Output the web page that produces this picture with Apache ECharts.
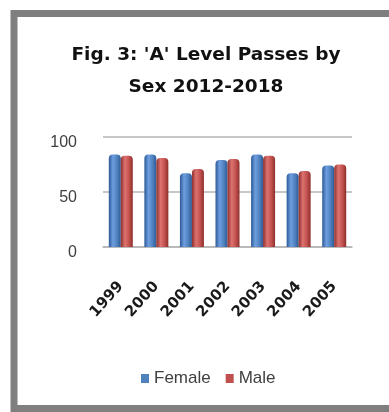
<!DOCTYPE html>
<html>
<head>
<meta charset="utf-8">
<script src="https://cdn.jsdelivr.net/npm/echarts@6/dist/echarts.min.js"></script>
<style>
html,body{margin:0;padding:0;background:#fff;}
#c{width:389px;height:412px;}
</style>
</head>
<body>
<div id="c"></div>
<script>
var categories = ['1999','2000','2001','2002','2003','2004','2005'];
var female = [84, 84, 67, 79, 84, 67, 74];
var male = [83, 81, 71, 80, 83, 69, 75];
var yTicks = [0, 50, 100];
var titleLines = ["Fig. 3: 'A' Level Passes by", "Sex 2012-2018"];
var seriesNames = ['Female', 'Male'];
var seriesColors = ['#4f81bd', '#c0504d'];

var chart = echarts.init(document.getElementById('c'), null, {renderer:'canvas'});
function cyl(dark, mid, light) {
  return new echarts.graphic.LinearGradient(0,0,1,0,[
    {offset:0,color:dark},{offset:0.35,color:light},{offset:0.7,color:mid},{offset:1,color:dark}
  ]);
}
chart.setOption({
  backgroundColor:'#fff',
  animation:false,
  graphic:[{
    type:'rect', z:-10, silent:true,
    shape:{x:14,y:13.5,width:420,height:395},
    style:{fill:'#fff',stroke:'#7f7f7f',lineWidth:7}
  }],
  title:{
    text: titleLines.join('\n'),
    left: 201, top: 34, textAlign:'center',
    textStyle:{fontFamily:'DejaVu Sans',fontWeight:'bold',fontSize:18.5,lineHeight:32,color:'#111'}
  },
  legend:{
    data: [
      {name:seriesNames[0], itemStyle:{color:seriesColors[0]}},
      {name:seriesNames[1], itemStyle:{color:seriesColors[1]}}
    ],
    left:136, top:365,
    itemWidth:8, itemHeight:9, itemGap:15,
    icon:'rect',
    textStyle:{fontFamily:'Liberation Sans',fontSize:17,color:'#404040'}
  },
  grid:{left:103, right:37, top:137, bottom:165},
  xAxis:{
    type:'category', data:categories,
    axisTick:{show:false},
    axisLine:{show:true,lineStyle:{color:'#b5b5b5',width:1.5}},
    axisLabel:{rotate:48, margin:37, interval:0, fontFamily:'DejaVu Sans', fontWeight:'bold', fontSize:15, color:'#1a1a1a'}
  },
  yAxis:{
    type:'value', min:0, max:100, interval:50,
    axisLine:{show:false}, axisTick:{show:false},
    splitLine:{lineStyle:{color:'#b5b5b5',width:1.5}},
    axisLabel:{margin:26, fontFamily:'Liberation Sans', fontSize:16, color:'#404040', verticalAlign:'top', lineHeight:12,
      formatter:function(v){return yTicks.indexOf(v)>=0 ? String(v) : '';}}
  },
  series:[
    {name:seriesNames[0], type:'bar', data:female, barWidth:12, barGap:'0%',
     itemStyle:{color:cyl('#2d5a96','#4f81bd','#6e9ee0'), borderRadius:[4,4,0,0]}},
    {name:seriesNames[1], type:'bar', data:male, barWidth:12,
     itemStyle:{color:cyl('#8e2f2c','#c0504d','#dd7370'), borderRadius:[4,4,0,0]}}
  ]
});
</script>
</body>
</html>
